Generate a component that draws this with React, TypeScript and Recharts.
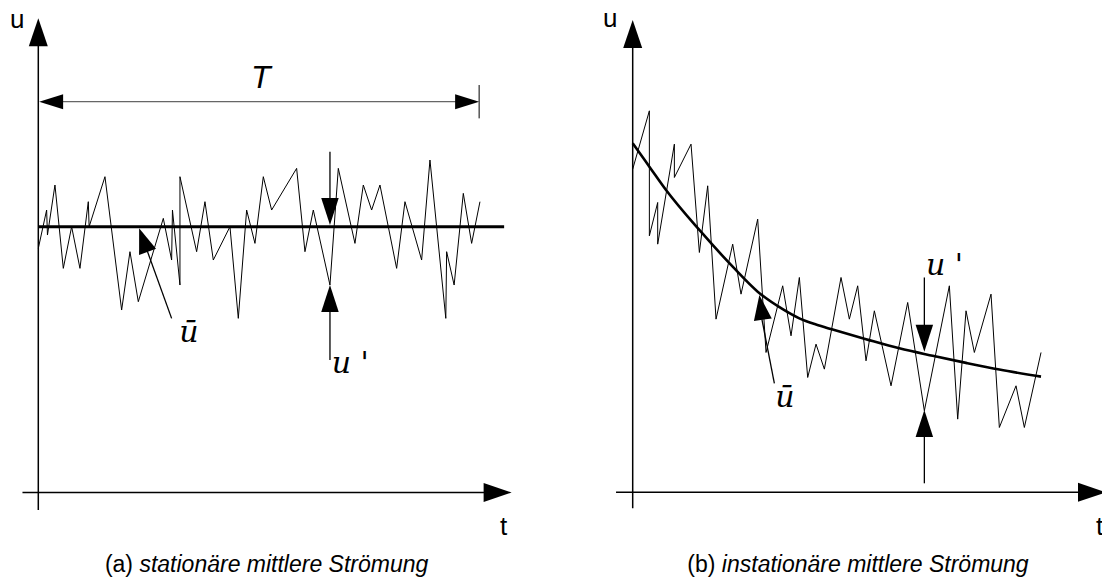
import React from 'react';
import { LineChart, Line, XAxis, YAxis, ReferenceLine, ReferenceDot } from 'recharts';

// ---------- (a) stationary mean flow ----------
const leftT = [0, 1, 1.1, 2, 3, 4, 5, 6, 6.1, 8, 10, 11, 12, 15, 16, 16.1, 17, 17, 19, 20, 21, 23, 24, 25, 26, 27, 28, 31, 32, 33, 35, 36, 38, 39, 40, 41, 43, 44, 46, 47, 48.9, 49, 49.9, 51, 52, 53];
const leftU = [-2.6, 2, -1, 5, -5, 0, -5, 3, 0, 6, -10, -3, -9, 1, -4, 2, -7, 6, -3, 3, -4, 0, -11, 2, -2, 6, 2, 7, -3, 2, -7, 7, -2, 5, 2, 5, -5, 3, -4, 8, -11, -3, -7, 4, -2, 3];
const leftMeanT = [0, 55.9];
const leftMeanU = [0, 0];

// ---------- (b) unsteady mean flow ----------
const rightT = [0, 2, 2, 3, 3, 5, 5, 7, 8, 9, 10, 12, 13, 15, 16, 18, 19, 20, 21, 22, 23, 25, 26, 27, 28, 29, 31, 33, 35, 38, 39, 40, 41, 43, 44, 46, 47, 49];
const rightU = [38, 45, 30, 34, 29, 41, 37, 41, 28, 36, 20, 29, 23, 32, 16, 24, 18, 25, 13, 17, 14, 25, 20, 24, 15, 21, 12, 22, 9, 24, 8, 21, 16, 23, 7, 12, 7, 16];
const rightMeanT = [0, 2, 4, 8, 12, 15, 18, 20, 22, 24, 28, 32, 36, 40, 44, 49];
const rightMeanU = [41.1, 38.3, 35.5, 30.7, 26.3, 23.3, 21.2, 20.1, 19.35, 18.75, 17.6, 16.5, 15.6, 14.75, 13.95, 13.1];

const captionA = ['(a) ', 'stationäre mittlere Strömung'];
const captionB = ['(b) ', 'instationäre mittlere Strömung'];
const axisU = 'u';
const axisT = 't';
const periodLabel = 'T';
const meanLabel = 'ū';
const flucLabel = "u '";

const zip = (t: number[], u: number[]) => t.map((tt, i) => ({ t: tt, u: u[i] }));

const leftData = zip(leftT, leftU);
const leftMean = zip(leftMeanT, leftMeanU);
const rightData = zip(rightT, rightU);
const rightMean = zip(rightMeanT, rightMeanU);

const W = 551;
const H = 578;
const SANS = '"Liberation Sans", Arial, Helvetica, sans-serif';
const SERIF = '"DejaVu Serif", serif';

function arrowHead(angle: number, len: number, wid: number, color = '#000') {
  return (p: any) => {
    const { cx, cy } = p;
    if (cx == null || cy == null) return <g />;
    const a = (angle * Math.PI) / 180;
    const dx = Math.cos(a);
    const dy = Math.sin(a);
    const bx = cx - len * dx;
    const by = cy - len * dy;
    const px = (-dy * wid) / 2;
    const py = (dx * wid) / 2;
    return (
      <polygon
        points={`${cx},${cy} ${bx + px},${by + py} ${bx - px},${by - py}`}
        fill={color}
        stroke="none"
      />
    );
  };
}

function textMark(content: React.ReactNode, opts: { size: number; family: string; italic?: boolean; anchor?: string }) {
  return (p: any) => {
    const { cx, cy } = p;
    if (cx == null || cy == null) return <g />;
    return (
      <text
        x={cx}
        y={cy}
        fontSize={opts.size}
        fontFamily={opts.family}
        fontStyle={opts.italic ? 'italic' : 'normal'}
        textAnchor={opts.anchor || 'start'}
        fill="#000"
      >
        {content}
      </text>
    );
  };
}

function caption(parts: string[]) {
  return (
    <>
      <tspan>{parts[0]}</tspan>
      <tspan fontStyle="italic">{parts[1]}</tspan>
    </>
  );
}

function LeftPanel() {
  return (
    <LineChart width={W} height={H} margin={{ top: 0, right: 0, bottom: 0, left: 0 }} accessibilityLayer={false}>
      <XAxis type="number" dataKey="t" domain={[-4.596, 61.524]} allowDataOverflow hide />
      <YAxis type="number" dataKey="u" domain={[-42.158, 27.204]} allowDataOverflow hide />
      {/* axes */}
      <ReferenceLine segment={[{ x: 0, y: -34 }, { x: 0, y: 24 }]} stroke="#000" strokeWidth={1.5} ifOverflow="visible" />
      <ReferenceLine segment={[{ x: -1.9, y: -31.9 }, { x: 56, y: -31.9 }]} stroke="#000" strokeWidth={1.5} ifOverflow="visible" />
      <ReferenceDot x={0} y={25} r={1} ifOverflow="visible" shape={arrowHead(-90, 28, 19)} />
      <ReferenceDot x={56.8} y={-31.9} r={1} ifOverflow="visible" shape={arrowHead(0, 28, 19)} />
      {/* period T */}
      <ReferenceLine segment={[{ x: 1, y: 15 }, { x: 52, y: 15 }]} stroke="#666" strokeWidth={1.2} ifOverflow="visible" />
      <ReferenceLine segment={[{ x: 52.9, y: 13 }, { x: 52.9, y: 17 }]} stroke="#000" strokeWidth={1} ifOverflow="visible" />
      <ReferenceDot x={0.1} y={15} r={1} ifOverflow="visible" shape={arrowHead(180, 24, 15)} />
      <ReferenceDot x={52.9} y={15} r={1} ifOverflow="visible" shape={arrowHead(0, 24, 15)} />
      {/* series */}
      <Line data={leftData} dataKey="u" type="linear" stroke="#000" strokeWidth={1} dot={false} activeDot={false} isAnimationActive={false} />
      <Line data={leftMean} dataKey="u" type="linear" stroke="#000" strokeWidth={3} dot={false} activeDot={false} isAnimationActive={false} />
      {/* u-bar arrow */}
      <ReferenceLine segment={[{ x: 16, y: -11 }, { x: 13, y: -2.7 }]} stroke="#000" strokeWidth={1.3} ifOverflow="visible" />
      <ReferenceDot x={12.1} y={-0.2} r={1} ifOverflow="visible" shape={arrowHead(-109.7, 25, 18)} />
      {/* u' arrows */}
      <ReferenceLine segment={[{ x: 35, y: 9 }, { x: 35, y: 2 }]} stroke="#000" strokeWidth={1.3} ifOverflow="visible" />
      <ReferenceDot x={35} y={0.2} r={1} ifOverflow="visible" shape={arrowHead(90, 27, 17.5)} />
      <ReferenceLine segment={[{ x: 35, y: -16 }, { x: 35, y: -9 }]} stroke="#000" strokeWidth={1.3} ifOverflow="visible" />
      <ReferenceDot x={35} y={-7} r={1} ifOverflow="visible" shape={arrowHead(-90, 27, 17.5)} />
      {/* texts */}
      <ReferenceDot x={-3.4} y={23.8} r={1} ifOverflow="visible" shape={textMark(axisU, { size: 26, family: SANS })} />
      <ReferenceDot x={55.4} y={-37} r={1} ifOverflow="visible" shape={textMark(axisT, { size: 26, family: SANS })} />
      <ReferenceDot x={26.7} y={16.7} r={1} ifOverflow="visible" shape={textMark(periodLabel, { size: 32, family: SANS, italic: true, anchor: 'middle' })} />
      <ReferenceDot x={16.9} y={-13.8} r={1} ifOverflow="visible" shape={textMark(meanLabel, { size: 30, family: SERIF, italic: true })} />
      <ReferenceDot x={35.2} y={-17.6} r={1} ifOverflow="visible" shape={textMark(flucLabel, { size: 30, family: SERIF, italic: true })} />
      <ReferenceDot x={27.4} y={-41.44} r={1} ifOverflow="visible" shape={textMark(caption(captionA), { size: 23, family: SANS, anchor: 'middle' })} />
    </LineChart>
  );
}

function RightPanel() {
  return (
    <LineChart width={W} height={H} margin={{ top: 0, right: 0, bottom: 0, left: 0 }} accessibilityLayer={false}>
      <XAxis type="number" dataKey="t" domain={[-9.804, 56.318]} allowDataOverflow hide />
      <YAxis type="number" dataKey="u" domain={[-11.064, 58.298]} allowDataOverflow hide />
      {/* axes */}
      <ReferenceLine segment={[{ x: 0, y: -2.7 }, { x: 0, y: 55 }]} stroke="#000" strokeWidth={1.5} ifOverflow="visible" />
      <ReferenceLine segment={[{ x: -2, y: -0.78 }, { x: 56, y: -0.78 }]} stroke="#000" strokeWidth={1.5} ifOverflow="visible" />
      <ReferenceDot x={0} y={55.9} r={1} ifOverflow="visible" shape={arrowHead(-90, 28, 19)} />
      <ReferenceDot x={56.8} y={-0.78} r={1} ifOverflow="visible" shape={arrowHead(0, 28, 19)} />
      {/* series */}
      <Line data={rightData} dataKey="u" type="linear" stroke="#000" strokeWidth={1} dot={false} activeDot={false} isAnimationActive={false} />
      <Line data={rightMean} dataKey="u" type="monotone" stroke="#000" strokeWidth={2.6} dot={false} activeDot={false} isAnimationActive={false} />
      {/* u-bar arrow */}
      <ReferenceLine segment={[{ x: 17, y: 12.3 }, { x: 15.5, y: 20 }]} stroke="#000" strokeWidth={1.3} ifOverflow="visible" />
      <ReferenceDot x={15.2} y={22.9} r={1} ifOverflow="visible" shape={arrowHead(-98, 25, 18)} />
      {/* u' arrows */}
      <ReferenceLine segment={[{ x: 35, y: 25 }, { x: 35, y: 18 }]} stroke="#000" strokeWidth={1.3} ifOverflow="visible" />
      <ReferenceDot x={35} y={16.1} r={1} ifOverflow="visible" shape={arrowHead(90, 27, 17.5)} />
      <ReferenceLine segment={[{ x: 35, y: 0.3 }, { x: 35, y: 7 }]} stroke="#000" strokeWidth={1.3} ifOverflow="visible" />
      <ReferenceDot x={35} y={9.1} r={1} ifOverflow="visible" shape={arrowHead(-90, 27, 17.5)} />
      {/* texts */}
      <ReferenceDot x={-3.56} y={55} r={1} ifOverflow="visible" shape={textMark(axisU, { size: 26, family: SANS })} />
      <ReferenceDot x={55.6} y={-5.9} r={1} ifOverflow="visible" shape={textMark(axisT, { size: 26, family: SANS })} />
      <ReferenceDot x={17.1} y={9.5} r={1} ifOverflow="visible" shape={textMark(meanLabel, { size: 30, family: SERIF, italic: true })} />
      <ReferenceDot x={35.2} y={25.3} r={1} ifOverflow="visible" shape={textMark(flucLabel, { size: 30, family: SERIF, italic: true })} />
      <ReferenceDot x={27.04} y={-10.34} r={1} ifOverflow="visible" shape={textMark(caption(captionB), { size: 23, family: SANS, anchor: 'middle' })} />
    </LineChart>
  );
}

export default function App() {
  return (
    <div style={{ position: 'absolute', left: 0, top: 0, width: 1102, height: 578, background: '#fff', overflow: 'hidden' }}>
      <div style={{ position: 'absolute', left: 0, top: 0, width: W, height: H }}>
        <LeftPanel />
      </div>
      <div style={{ position: 'absolute', left: 551, top: 0, width: W, height: H }}>
        <RightPanel />
      </div>
    </div>
  );
}
